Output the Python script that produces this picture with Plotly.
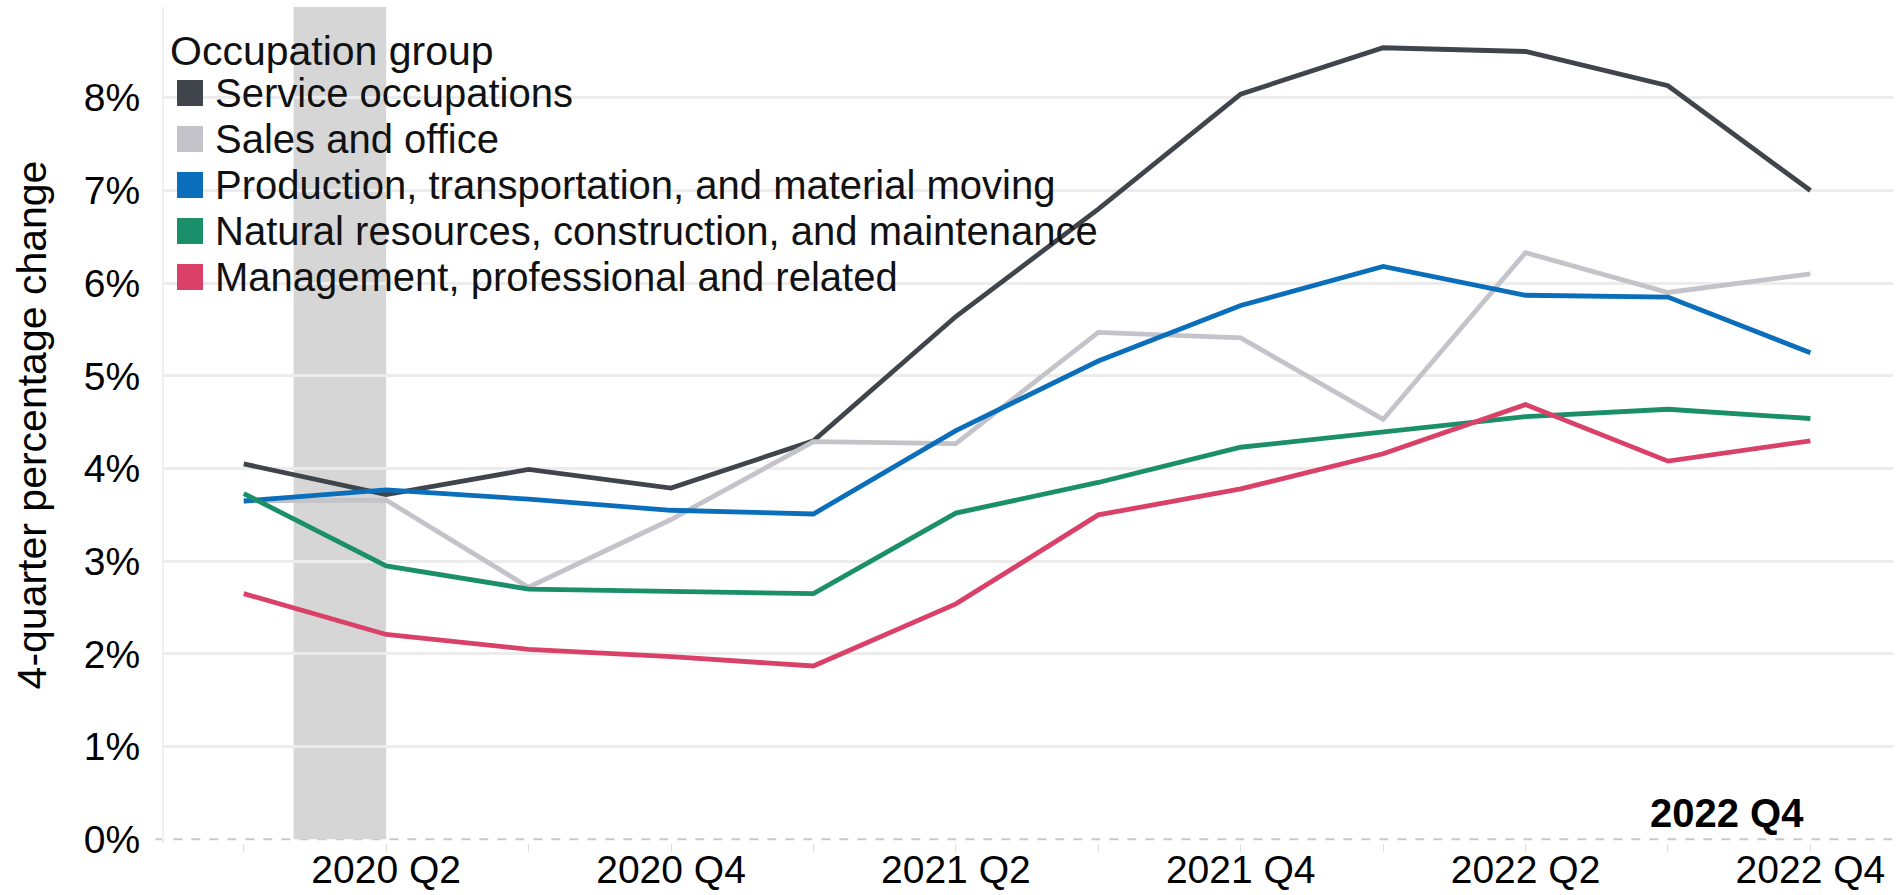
"""
Year-over-year change in pay by occupation group, 2020 Q1 - 2022 Q4
"""

import plotly.graph_objects as go


QUARTERS = [
    "2020 Q1", "2020 Q2", "2020 Q3", "2020 Q4",
    "2021 Q1", "2021 Q2", "2021 Q3", "2021 Q4",
    "2022 Q1", "2022 Q2", "2022 Q3", "2022 Q4",
]

SERVICE = [4.05, 3.72, 3.99, 3.79, 4.30, 5.64, 6.80, 8.04, 8.54, 8.50, 8.13, 7.00]
SALES = [3.65, 3.66, 2.72, 3.45, 4.29, 4.27, 5.47, 5.41, 4.53, 6.33, 5.90, 6.10]
PRODUCTION = [3.65, 3.77, 3.67, 3.55, 3.51, 4.41, 5.16, 5.76, 6.18, 5.87, 5.85, 5.25]
NATURAL = [3.73, 2.95, 2.70, 2.68, 2.65, 3.52, 3.85, 4.23, 4.39, 4.56, 4.64, 4.54]
MANAGEMENT = [2.65, 2.21, 2.05, 1.97, 1.87, 2.54, 3.50, 3.78, 4.16, 4.69, 4.08, 4.30]

GROUP_NAMES = [
    "Service occupations",
    "Sales and office",
    "Production, transportation, and material moving",
    "Natural resources, construction, and maintenance",
    "Management, professional and related",
]
GROUP_VALUES = [SERVICE, SALES, PRODUCTION, NATURAL, MANAGEMENT]
GROUP_COLORS = ["#40454c", "#c4c3c9", "#0a6ebb", "#1a8f69", "#da4168"]

Y_TICKS = [0, 1, 2, 3, 4, 5, 6, 7, 8]
LATEST_LABEL = "2022 Q4"

# recession shading (in quarter-index units)
RECESSION = (0.35, 1.0)

FONT = "Liberation Sans, Arial, sans-serif"
W, H = 1898, 895
MARGIN = dict(l=164, r=5, t=7, b=52)
PLOT_W = W - MARGIN["l"] - MARGIN["r"]
PLOT_H = H - MARGIN["t"] - MARGIN["b"]
Y_RANGE = [-0.04, 8.98]


def _paper_x(px):
    return (px - MARGIN["l"]) / PLOT_W


def _paper_y(py):
    return (H - MARGIN["b"] - py) / PLOT_H


x = list(range(len(QUARTERS)))

fig = go.Figure()

for name, values, color in zip(GROUP_NAMES, GROUP_VALUES, GROUP_COLORS):
    fig.add_trace(go.Scatter(
        x=x,
        y=values,
        name=name,
        mode="lines",
        line=dict(color=color, width=4.8),
        showlegend=False,
    ))

# recession band
fig.add_shape(
    type="rect", xref="x", yref="y",
    x0=RECESSION[0], x1=RECESSION[1], y0=0, y1=Y_RANGE[1],
    fillcolor="#d6d6d6", line_width=0, layer="below",
)

# dashed zero line
fig.add_shape(
    type="line", xref="paper", yref="y",
    x0=-0.005, x1=1, y0=0, y1=0,
    line=dict(color="#c9c9c9", width=2, dash="dash"),
    layer="below",
)

# legend built by hand so the swatches are big squares
annotations = [dict(
    text="Occupation group", xref="paper", yref="paper",
    x=_paper_x(168), y=_paper_y(51), xanchor="left", yanchor="middle",
    showarrow=False, font=dict(family=FONT, size=41, color="#111111"),
)]
row_y = [93, 139, 185, 231, 277]
for name, color, ry in zip(GROUP_NAMES, GROUP_COLORS, row_y):
    fig.add_shape(
        type="rect", xref="paper", yref="paper",
        x0=_paper_x(177), x1=_paper_x(203),
        y0=_paper_y(ry + 13), y1=_paper_y(ry - 13),
        fillcolor=color, line_width=0, layer="above",
    )
    annotations.append(dict(
        text=name, xref="paper", yref="paper",
        x=_paper_x(213), y=_paper_y(ry), xanchor="left", yanchor="middle",
        showarrow=False, font=dict(family=FONT, size=40, color="#111111"),
    ))

annotations.append(dict(
    text=f"<b>{LATEST_LABEL}</b>", xref="x", yref="y",
    x=x[-1], y=0, xanchor="right", yanchor="bottom", xshift=-4, yshift=2,
    showarrow=False, font=dict(family=FONT, size=40, color="#000000"),
))

fig.update_layout(
    width=W,
    height=H,
    margin=MARGIN,
    plot_bgcolor="white",
    paper_bgcolor="white",
    font=dict(family=FONT, size=39, color="#000000"),
    annotations=annotations,
    showlegend=False,
)

fig.update_xaxes(
    range=[-0.56, 11.58],
    tickmode="array",
    tickvals=x[1::2],
    ticktext=QUARTERS[1::2],
    showgrid=False,
    zeroline=False,
    automargin=False,
    ticks="outside",
    ticklen=8,
    tickwidth=1,
    tickcolor="#dddddd",
    ticklabelstandoff=-16,
    minor=dict(tickmode="linear", tick0=0, dtick=1, ticks="outside",
               ticklen=8, tickwidth=1, tickcolor="#dddddd"),
    tickfont=dict(size=39),
)

fig.update_yaxes(
    range=Y_RANGE,
    tickmode="array",
    tickvals=Y_TICKS,
    ticktext=[f"{v}%" for v in Y_TICKS],
    showgrid=False,
    zeroline=False,
    automargin=False,
    showline=True,
    linecolor="#f0f0f0",
    linewidth=2,
    ticks="",
    ticklabelstandoff=14,
    minor=dict(tickmode="array", tickvals=Y_TICKS[1:], showgrid=True,
               gridcolor="#ececec", gridwidth=3, ticks=""),
    title=dict(text="4-quarter percentage change", font=dict(size=41), standoff=24),
)

fig.write_html(
    "out.html",
    config={"displayModeBar": False},
    post_script="document.body.style.margin='0';",
)
